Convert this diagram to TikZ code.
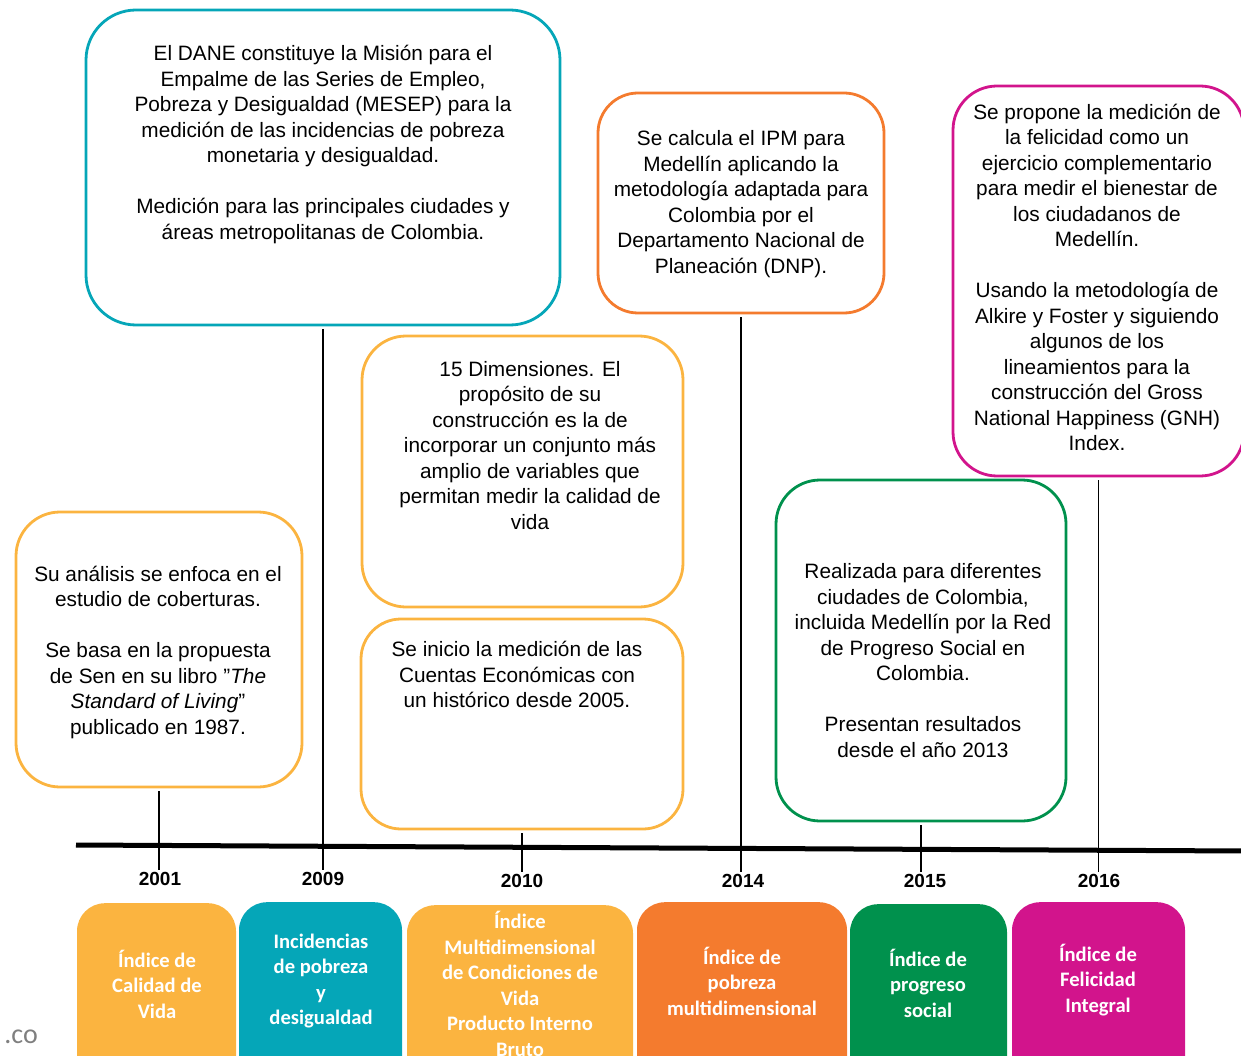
\documentclass[tikz,border=0pt]{standalone}
\usepackage{fontspec}
\setmainfont{Liberation Sans}
\newfontfamily\calibrifont{Carlito}
\usepackage{xcolor}
\definecolor{yellowcolor}{HTML}{FBB440}
\definecolor{tealcolor}{HTML}{05A6B8}
\definecolor{orangecolor}{HTML}{F47B2E}
\definecolor{greencolor}{HTML}{00914D}
\definecolor{magentacolor}{HTML}{D2148C}
\definecolor{greycolor}{HTML}{7F7F7F}
\usepackage{tikz}

\begin{document}
\begin{tikzpicture}[
  x=1pt, y=-1pt,
  notebox/.style={rounded corners=44pt, line width=2.8pt, fill=white, inner sep=0pt},
  notetext/.style={align=center, inner sep=0pt, font=\fontsize{20.8}{25.5}\selectfont},
  indexbox/.style={anchor=north, rounded corners=28pt, inner sep=0pt, minimum height=190pt},
  indextext/.style={align=center, inner sep=0pt, text=white, font=\calibrifont\bfseries\fontsize{20.6}{25.5}\selectfont},
  yeartext/.style={inner sep=2pt, font=\bfseries\fontsize{19}{20}\selectfont},
  tick/.style={line width=1.3pt, shorten <=3pt},
]

  \useasboundingbox (0, 0) rectangle (1241, 1056);
  \clip (0, 0) rectangle (1241, 1056);

  \coordinate (tl1) at (76, 845);
  \coordinate (tl2) at (1245, 851);
  \draw[line width=5pt] (tl1) -- (tl2);

  \node[notebox, draw=tealcolor, rounded corners=50pt, minimum width=474pt, minimum height=315pt] (dane) at (323, 167.5) {};
  \node[notebox, draw=yellowcolor, minimum width=286pt, minimum height=275pt] (calidad) at (159, 649.5) {};
  \node[notebox, draw=yellowcolor, minimum width=321pt, minimum height=271pt] (dimensiones) at (522.5, 471.5) {};
  \node[notebox, draw=yellowcolor, rounded corners=40pt, minimum width=322pt, minimum height=210pt] (cuentas) at (522, 724) {};
  \node[notebox, draw=orangecolor, rounded corners=40pt, minimum width=286pt, minimum height=220pt] (ipm) at (741, 203) {};
  \node[notebox, draw=greencolor, minimum width=290pt, minimum height=341pt] (progreso) at (921, 650.5) {};
  \node[notebox, draw=magentacolor, minimum width=291pt, minimum height=390pt] (felicidad) at (1098.5, 281) {};

  \node[notetext] (dane-txt) at (323, 144.5) {El DANE constituye la Misión para el\\
    Empalme de las Series de Empleo,\\
    Pobreza y Desigualdad (MESEP) para la\\
    medición de las incidencias de pobreza\\
    monetaria y desigualdad.\\[25.5pt]
    Medición para las principales ciudades y\\
    áreas metropolitanas de Colombia.};
  \node[notetext] (calidad-txt) at (158, 652) {Su análisis se enfoca en el\\
    estudio de coberturas.\\[25.5pt]
    Se basa en la propuesta\\
    de Sen en su libro "\textit{The}\\
    \textit{Standard of Living}"\\
    publicado en 1987.};
  \node[notetext] (dimensiones-txt) at (530, 445.5) {15 Dimensiones. El\\
    propósito de su\\
    construcción es la de\\
    incorporar un conjunto más\\
    amplio de variables que\\
    permitan medir la calidad de\\
    vida};
  \node[notetext] (cuentas-txt) at (517, 674.5) {Se inicio la medición de las\\
    Cuentas Económicas con\\
    un histórico desde 2005.};
  \node[notetext] (ipm-txt) at (741, 204) {Se calcula el IPM para\\
    Medellín aplicando la\\
    metodología adaptada para\\
    Colombia por el\\
    Departamento Nacional de\\
    Planeación (DNP).};
  \node[notetext] (progreso-txt) at (923, 660.5) {Realizada para diferentes\\
    ciudades de Colombia,\\
    incluida Medellín por la Red\\
    de Progreso Social en\\
    Colombia.\\[25.5pt]
    Presentan resultados\\
    desde el año 2013};
  \node[notetext] (felicidad-txt) at (1097, 277.5) {Se propone la medición de\\
    la felicidad como un\\
    ejercicio complementario\\
    para medir el bienestar de\\
    los ciudadanos de\\
    Medellín.\\[25.5pt]
    Usando la metodología de\\
    Alkire y Foster y siguiendo\\
    algunos de los\\
    lineamientos para la\\
    construcción del Gross\\
    National Happiness (GNH)\\
    Index.};

  \node[yeartext] (y2001) at (160, 879) {2001};
  \node[yeartext] (y2009) at (323, 879) {2009};
  \node[yeartext] (y2010) at (522, 881) {2010};
  \node[yeartext] (y2014) at (743, 881) {2014};
  \node[yeartext] (y2015) at (925, 881) {2015};
  \node[yeartext] (y2016) at (1099, 881) {2016};

  \draw[tick] (calidad.south) -- (calidad.south |- y2001.north);
  \draw[tick] (dane.south) -- (dane.south |- y2009.north);
  \draw[tick] (cuentas.south) -- (cuentas.south |- y2010.north);
  \draw[tick] (ipm.south) -- (ipm.south |- y2014.north);
  \draw[tick] (progreso.south) -- (progreso.south |- y2015.north);
  \draw[tick] (felicidad.south) -- (felicidad.south |- y2016.north);

  \node[indexbox, fill=yellowcolor, minimum width=159pt] (icv) at (156.5, 903) {};
  \node[indexbox, fill=tealcolor, minimum width=163pt] (pobreza) at (320.5, 902) {};
  \node[indexbox, fill=yellowcolor, minimum width=226pt] (imcv) at (520, 905) {};
  \node[indexbox, fill=orangecolor, minimum width=210pt] (ipmbox) at (742, 902) {};
  \node[indexbox, fill=greencolor, minimum width=157pt] (ips) at (928.5, 904) {};
  \node[indexbox, fill=magentacolor, minimum width=173pt] (ifi) at (1098.5, 902) {};

  \node[indextext] (icv-txt) at (157, 984) {Índice de\\ Calidad de\\ Vida};
  \node[indextext] (pobreza-txt) at (321, 981) {Incidencias\\ de pobreza\\ y\\ desigualdad};
  \node[indextext] (imcv-txt) at (520, 984) {Índice\\ Multidimensional\\ de Condiciones de\\ Vida\\ Producto Interno\\ Bruto};
  \node[indextext] (ipmbox-txt) at (742, 981) {Índice de\\ pobreza\\ multidimensional};
  \node[indextext] (ips-txt) at (928, 983) {Índice de\\ progreso\\ social};
  \node[indextext] (ifi-txt) at (1098, 980) {Índice de\\ Felicidad\\ Integral};

  \node[anchor=east, inner sep=0pt, text=greycolor, font=\calibrifont\fontsize{28}{30}\selectfont] (web) at (38, 1037) {.co};
\end{tikzpicture}
\end{document}
